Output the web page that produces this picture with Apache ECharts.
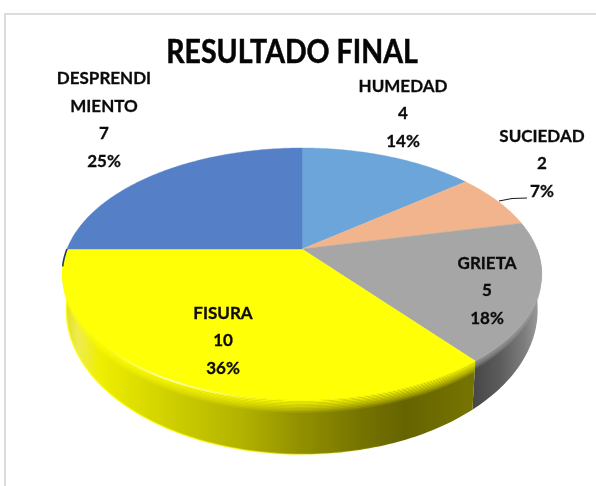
<!DOCTYPE html>
<html>
<head>
<meta charset="utf-8">
<style>html,body{margin:0;padding:0;background:#fff}#c{width:596px;height:486px}</style>
<script src="https://cdn.jsdelivr.net/npm/echarts@6/dist/echarts.min.js"></script>
</head>
<body>
<div id="c"></div>
<script>
const chartTitle = 'RESULTADO FINAL';
const categories = ['HUMEDAD', 'SUCIEDAD', 'GRIETA', 'FISURA', 'DESPRENDI\nMIENTO'];
const values = [4, 2, 5, 10, 7];
const topColors = ['#6ca5d9', '#f1b48c', '#a6a6a6', '#ffff05', '#5580c8'];

// Label centres, kept apart from the data
const labelCentres = [[403, 114], [542, 164], [487, 291], [223, 341], [104, 120]];

// Perspective disc: top rim and lower rim of the extruded pie
const CX = 302, K = 0.198;
const TOP = {a: 235, b: 121, y0: 249};
const LOW = {a: 231, b: 138.6, y0: 281.5};
const project = (r, t) => {
  const u = Math.sin(t), v = Math.cos(t), w = 1 + K * v;
  return [CX + r.a * u / w, r.y0 - r.b * v / w];
};
const total = values.reduce((s, x) => s + x, 0);
const rad = d => d * Math.PI / 180;
const range = i => {
  let s = 0;
  for (let j = 0; j < i; j++) s += values[j];
  return [s / total * 2 * Math.PI, (s + values[i]) / total * 2 * Math.PI];
};
const arc = (r, t0, t1) => {
  const n = Math.max(2, Math.ceil((t1 - t0) / rad(1)));
  const pts = [];
  for (let k = 0; k <= n; k++) pts.push(project(r, t0 + (t1 - t0) * k / n));
  return pts;
};
const mix = (pa, pb, f) => pa.map((p, i) => [p[0] + (pb[i][0] - p[0]) * f, p[1] + (pb[i][1] - p[1]) * f]);
const hGrad = (x0, x1, stops) => ({type: 'linear', x: x0, y: 0, x2: x1, y2: 0, global: true,
  colorStops: stops.map(s => ({offset: (s[0] - x0) / (x1 - x0), color: s[1]}))});

const wallFill = {
  2: hGrad(468, 545, [[468, '#424242'], [500, '#5c5c5c'], [525, '#7e7e7e'], [538, '#9a9a9a'], [545, '#b0b0b0']]),
  3: hGrad(62, 472, [[62, '#dcdc10'], [78, '#efec50'], [100, '#eeee00'], [170, '#cfcf00'], [240, '#b3b300'],
                     [300, '#929000'], [360, '#767400'], [405, '#666400'], [472, '#767400']])
};

function wallItem(params, api) {
  const i = params.dataIndex;
  const [a, b] = range(i);
  const t0 = Math.max(a, rad(90)), t1 = Math.min(b, rad(270));
  if (t1 <= t0 || !wallFill[i]) return {type: 'group', children: []};
  const up = arc(TOP, t0, t1), lo = arc(LOW, t0, t1);
  const children = [{type: 'polygon', shape: {points: up.concat(lo.slice().reverse())}, style: {fill: wallFill[i]}}];
  // soft bevel just under the rim
  const steps = 9;
  const span = i === 3 ? 0.24 : 0.18;
  for (let s = 0; s < steps; s++) {
    const f0 = s / steps * span, f1 = (s + 1) / steps * span;
    const p0 = mix(up, lo, f0), p1 = mix(up, lo, f1);
    children.push({type: 'polygon', shape: {points: p0.concat(p1.slice().reverse())},
      style: {fill: topColors[i], opacity: Math.pow(1 - (s + 0.5) / steps, 0.8)}});
  }
  if (i === 3) {
    children.push({type: 'polyline', shape: {points: lo},
      style: {fill: 'none', lineWidth: 1.6,
        stroke: hGrad(70, 400, [[70, 'rgba(255,255,0,0.7)'], [240, 'rgba(255,255,0,0.55)'], [400, 'rgba(255,255,0,0)']])}});
    children.push({type: 'polyline', shape: {points: mix(up, lo, 0.015)},
      style: {fill: 'none', lineWidth: 2.4,
        stroke: hGrad(105, 265, [[105, 'rgba(255,255,210,0)'], [165, 'rgba(255,255,225,0.85)'], [205, 'rgba(255,255,200,0.6)'], [265, 'rgba(255,255,200,0)']])}});
  }
  return {type: 'group', children};
}

function topItem(params, api) {
  const i = params.dataIndex;
  const [a, b] = range(i);
  const pts = [[CX, TOP.y0]].concat(arc(TOP, a, b));
  return {type: 'polygon', shape: {points: pts},
    style: {fill: topColors[i], stroke: topColors[i], lineWidth: 0.4}};
}

function labelItem(params, api) {
  const i = params.dataIndex;
  const pct = Math.round(api.value(0) / total * 100);
  return {type: 'text', x: labelCentres[i][0], y: labelCentres[i][1],
    style: {text: categories[i] + '\n' + api.value(0) + '\n' + pct + '%',
      fontFamily: 'Lato', fontWeight: 'bold', fontSize: 17, lineHeight: 27.5,
      align: 'center', verticalAlign: 'middle', fill: '#0b0b0b', stroke: '#0b0b0b', lineWidth: 0.3}};
}

const rows = values.map(v => [v]);
const chart = echarts.init(document.getElementById('c'), null, {renderer: 'canvas'});
const notch = arc(TOP, rad(262), rad(270));
chart.setOption({
  animation: false,
  backgroundColor: '#ffffff',
  graphic: [
    {type: 'text', silent: true, x: 292, y: 53, scaleX: 0.905, z: 20,
     style: {text: chartTitle, fontFamily: 'Lato', fontWeight: 'bold', fontSize: 31.5,
       align: 'center', verticalAlign: 'middle', fill: '#050505', stroke: '#050505', lineWidth: 0.5}},
    {type: 'polyline', silent: true, shape: {points: [[5, 486], [5, 14], [596, 14]]},
     style: {fill: 'none', stroke: '#d2d2d2', lineWidth: 1.5}},
    {type: 'polyline', silent: true, z: 20, shape: {points: [[499, 201], [512, 198.5], [527, 198]]},
     style: {fill: 'none', stroke: '#1a1a1a', lineWidth: 1.2}},
    {type: 'polyline', silent: true, z: 20, shape: {points: notch},
     style: {fill: 'none', stroke: '#22386a', lineWidth: 1.6}}
  ],
  series: [
    {type: 'custom', coordinateSystem: 'none', renderItem: wallItem, data: rows, z: 2, silent: true},
    {type: 'custom', coordinateSystem: 'none', renderItem: topItem, data: rows, z: 3, silent: true},
    {type: 'custom', coordinateSystem: 'none', renderItem: labelItem, data: rows, z: 4, silent: true}
  ]
});
</script>
</body>
</html>
